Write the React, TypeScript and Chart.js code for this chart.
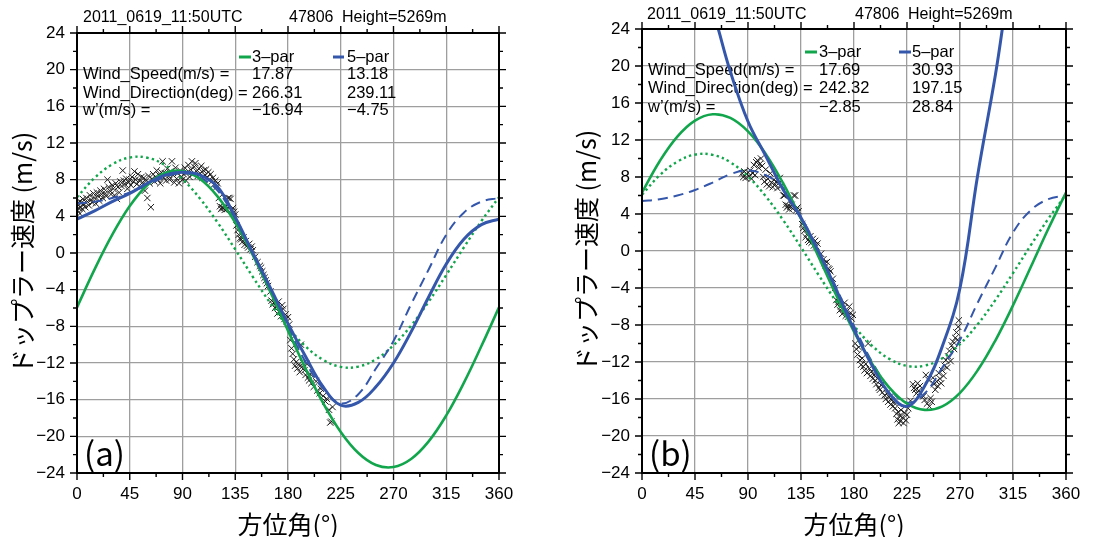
import { useEffect, useRef } from "react";
import { Chart, registerables } from "chart.js";

Chart.register(...registerables);

const W = 1107;
const H = 537;
const SANS = '"Liberation Sans", Arial, Helvetica, sans-serif';
const CJK = '"Noto Sans CJK JP", "Noto Sans", sans-serif';
const GREEN = "#12a64c";
const BLUE = "#3457ab";
const GRID = "#9e9e9e";

// fitted curves, read every 15 degrees
const fitAngles = [0, 15, 30, 45, 60, 75, 90, 105, 120, 135, 150, 165, 180, 195, 210, 225, 240, 255, 270, 285, 300, 315, 330, 345, 360];
const refDotted = [6.08, 8.19, 9.66, 10.42, 10.39, 9.59, 8.06, 5.92, 3.31, 0.4, -2.6, -5.49, -8.08, -10.19, -11.66, -12.42, -12.39, -11.59, -10.06, -7.92, -5.31, -2.4, 0.6, 3.49, 6.08];
const refDashed = [5.4, 5.6, 6.0, 6.6, 7.4, 8.3, 8.7, 8.2, 6.8, 3.7, 0.0, -4.0, -8.1, -11.9, -14.8, -16.4, -15.4, -12.6, -9.6, -5.6, -1.8, 2.0, 4.4, 5.6, 6.0];
const fitA3 = [-5.93, -1.79, 1.97, 5.12, 7.42, 8.73, 8.95, 8.07, 6.15, 3.32, -0.23, -4.25, -8.47, -12.61, -16.37, -19.52, -21.82, -23.13, -23.35, -22.47, -20.55, -17.72, -14.17, -10.15, -5.93];
const fitA5 = [3.7, 4.6, 5.6, 6.5, 7.6, 8.5, 8.8, 8.5, 7.2, 3.9, 0.0, -3.8, -7.7, -11.3, -14.6, -16.6, -16.3, -14.6, -12.0, -8.6, -4.8, -1.2, 1.5, 3.1, 3.7];
const fitB3 = [6.31, 9.71, 12.37, 14.1, 14.78, 14.39, 12.93, 10.5, 7.28, 3.48, -0.64, -4.8, -8.71, -12.11, -14.77, -16.5, -17.18, -16.79, -15.33, -12.9, -9.68, -5.88, -1.76, 2.4, 6.31];
const fitB5 = [36, 35, 32, 31, 26, 19.4, 14.0, 10.3, 6.6, 3.6, -0.1, -4.2, -8.5, -12.3, -15.4, -16.8, -14.6, -10.3, -4.0, 8.2, 19.0, 31, 38, 40, 36];

// observed Doppler velocities
const obsDegA = [0.5, 1, 1.5, 2, 2.5, 3, 4, 4.5, 5, 6, 7, 8, 9, 10, 11, 12, 13, 14, 15, 16, 17, 18, 19, 20, 21, 22, 23, 24, 25, 26, 27, 28, 29, 30, 31, 32, 33, 34, 35, 36, 37, 38, 39, 40, 41, 42, 43, 44, 45, 46, 47, 48, 49, 50, 51, 52, 53, 54, 55, 56, 57, 58, 59, 60, 61, 62, 63, 64, 65, 66, 67, 68, 69, 70, 71, 72, 73, 74, 75, 76, 77, 78, 79, 80, 81, 82, 83, 84, 85, 86, 87, 88, 89, 90, 91, 92, 93, 94, 95, 96, 97, 98, 99, 100, 101, 102, 103, 104, 105, 106, 107, 108, 109, 110, 111, 112, 113, 114, 115, 116, 117, 118, 119, 120, 121, 122, 123, 124, 125, 126, 127, 128, 129, 130, 131, 132, 133, 134, 135, 136, 137, 138, 139, 140, 141, 142, 143, 144, 145, 146, 147, 148, 149, 150, 152, 154, 156, 157, 158, 159, 160, 161, 162, 163, 165, 166, 167, 168, 169, 170, 171, 172, 173, 174, 175, 176, 177, 178, 179, 180, 181, 182, 183, 184, 185, 186, 187, 188, 189, 190, 191, 192, 193, 194, 195, 196, 197, 198, 199, 200, 202, 204, 205, 207, 208, 210, 212, 213, 215, 216, 217, 218];
const obsVelA = [4.6, 5.2, 4.9, 5.6, 4.3, 5.0, 5.5, 4.8, 5.9, 5.3, 5.0, 6.0, 5.6, 5.2, 6.3, 5.8, 5.5, 6.5, 6.0, 5.4, 6.6, 6.2, 5.7, 6.8, 6.4, 6.0, 7.0, 6.5, 6.2, 8.0, 7.2, 6.8, 6.4, 7.4, 7.0, 6.3, 7.6, 5.9, 7.2, 6.6, 7.8, 7.3, 9.0, 7.9, 7.5, 8.1, 7.0, 7.7, 8.0, 7.4, 8.3, 7.8, 8.9, 8.0, 7.5, 8.6, 7.9, 7.2, 8.3, 7.7, 8.2, 6.8, 7.9, 6.0, 8.4, 7.6, 5.0, 8.1, 8.6, 7.8, 8.3, 9.0, 8.0, 8.5, 7.6, 8.8, 10.0, 8.2, 8.7, 7.9, 9.2, 8.4, 8.0, 8.9, 10.0, 8.5, 7.7, 9.3, 8.1, 8.7, 7.6, 9.0, 8.3, 8.0, 8.6, 9.3, 7.9, 8.8, 9.6, 8.3, 9.1, 10.0, 8.6, 9.4, 9.8, 8.9, 8.4, 9.2, 8.7, 9.5, 8.2, 9.0, 8.5, 9.1, 8.3, 8.8, 8.0, 8.6, 7.8, 8.2, 7.5, 7.9, 7.2, 7.6, 6.0, 5.1, 4.8, 5.0, 4.9, 4.7, 5.1, 4.8, 6.0, 6.0, 5.9, 4.6, 4.9, 4.5, 4.2, 3.0, 2.5, 2.0, 1.6, 1.5, 1.2, 1.7, 0.9, 1.3, 0.8, 0.6, 1.0, 0.4, 0.7, 0.3, -0.4, -1.0, -1.4, -1.6, -2.0, -2.4, -2.7, -3.0, -3.3, -3.6, -4.2, -5.2, -5.6, -5.4, -6.0, -5.8, -6.6, -5.3, -6.3, -6.9, -5.7, -6.1, -7.2, -6.7, -7.5, -7.0, -7.8, -9.5, -10.4, -11.0, -11.6, -12.3, -11.9, -12.6, -12.2, -13.0, -10.0, -12.4, -12.0, -12.8, -13.3, -12.1, -13.6, -13.9, -13.2, -14.2, -14.6, -14.0, -15.0, -15.3, -14.8, -15.6, -16.2, -15.9, -17.1, -18.5, -18.4, -16.8];
const obsDegB = [85, 86, 87, 88, 89, 90, 91, 92, 93, 94, 95, 96, 97, 98, 99, 100, 101, 102, 103, 104, 105, 106, 107, 108, 109, 110, 111, 112, 113, 114, 115, 116, 117, 118, 120, 121, 122, 123, 124, 125, 126, 127, 128, 129, 130, 131, 132, 133, 136, 137, 138, 139, 140, 141, 142, 143, 144, 145, 146, 147, 148, 149, 152, 154, 155, 156, 157, 158, 159, 160, 162, 164, 165, 166, 167, 168, 169, 170, 171, 172, 173, 174, 175, 176, 177, 178, 179, 181, 182, 183, 184, 185, 186, 187, 188, 189, 190, 191, 192, 193, 194, 195, 196, 197, 198, 199, 200, 201, 202, 203, 204, 206, 207, 208, 209, 210, 211, 212, 213, 214, 215, 216, 217, 217.5, 218, 219, 219.5, 220, 221, 222, 223, 224, 225, 226, 228, 230, 231, 232, 233, 234, 235, 236, 239, 240, 241, 242, 243, 244, 245, 246, 247, 248, 249, 250, 251, 252, 253, 254, 255, 256, 257, 258, 259, 260, 261, 262, 263, 264, 265, 266, 267, 268, 268.5, 269];
const obsVelB = [8.4, 8.0, 8.6, 7.9, 8.3, 8.5, 8.1, 8.7, 7.8, 8.4, 9.3, 8.2, 9.6, 9.8, 9.0, 9.4, 10.0, 9.2, 8.0, 7.5, 8.8, 7.2, 7.8, 7.0, 8.4, 7.4, 6.9, 7.7, 7.2, 7.5, 6.8, 7.3, 7.9, 7.0, 6.0, 6.0, 5.0, 4.7, 4.9, 4.5, 4.8, 5.0, 4.6, 6.0, 6.0, 4.4, 4.7, 4.3, 2.9, 2.5, 2.2, 1.5, 1.8, 1.2, 1.0, 1.6, 0.9, 1.3, 0.6, 1.1, 0.5, 0.8, -0.3, -0.9, -1.3, -1.6, -1.2, -1.9, -2.0, -2.2, -3.0, -4.0, -5.3, -5.8, -5.5, -6.4, -6.0, -6.8, -6.2, -5.6, -7.0, -6.5, -7.1, -6.0, -6.7, -7.3, -6.9, -10.0, -10.6, -11.2, -10.4, -11.8, -12.3, -11.6, -12.5, -12.9, -12.2, -13.2, -10.0, -12.7, -13.5, -13.0, -13.8, -13.4, -14.0, -14.4, -13.8, -14.8, -15.0, -14.5, -15.3, -15.6, -16.0, -15.4, -16.3, -15.8, -16.6, -16.1, -16.8, -16.4, -17.0, -17.6, -18.2, -17.4, -18.6, -17.8, -18.4, -17.2, -18.0, -18.6, -17.5, -18.3, -17.7, -17.0, -16.2, -14.4, -14.8, -15.0, -15.4, -14.3, -15.1, -14.6, -15.7, -16.1, -13.4, -16.5, -13.9, -16.8, -15.9, -16.3, -13.7, -14.4, -15.0, -14.1, -14.6, -13.2, -13.8, -14.3, -12.9, -13.5, -12.4, -11.8, -12.6, -11.4, -10.8, -11.9, -10.2, -9.8, -10.6, -9.4, -8.8, -9.6, -8.2, -7.5];

// text
const headerA = ["2011_0619_11:50UTC", "47806", "Height=5269m"];
const headerB = ["2011_0619_11:50UTC", "47806", "Height=5269m"];
const rowLabels = ["Wind_Speed(m/s) =", "Wind_Direction(deg) =", "w’(m/s) ="];
const legendNames = ["3–par", "5–par"];
const statsA3 = ["17.87", "266.31", "−16.94"];
const statsA5 = ["13.18", "239.11", "−4.75"];
const statsB3 = ["17.69", "242.32", "−2.85"];
const statsB5 = ["30.93", "197.15", "28.84"];
const yTitle = "ドップラー速度 (m/s)";
const xTitle = "方位角(°)";

type Panel = {
  tag: string;
  left: number;
  width: number;
  plotLeft: number;
  plotRight: number;
  plotTop: number;
  plotBottom: number;
  header: string[];
  headerY: number;
  headerX: number[];
  legendY: number;
  rowY: number[];
  labelX: number;
  colX: number[];
  legSeg: number[][];
  stats3: string[];
  stats5: string[];
  yTitleX: number;
  fit3: number[];
  fit5: number[];
  obsDeg: number[];
  obsVel: number[];
};

const panels: Panel[] = [
  {
    tag: "(a)", left: 0, width: 555, plotLeft: 77, plotRight: 499, plotTop: 33, plotBottom: 473,
    header: headerA, headerY: 18, headerX: [83, 289, 342],
    legendY: 57, rowY: [74, 93, 110], labelX: 83, colX: [252, 347],
    legSeg: [[239, 251], [333, 344]], stats3: statsA3, stats5: statsA5, yTitleX: 22,
    fit3: fitA3, fit5: fitA5, obsDeg: obsDegA, obsVel: obsVelA,
  },
  {
    tag: "(b)", left: 555, width: 552, plotLeft: 642, plotRight: 1066, plotTop: 29, plotBottom: 473,
    header: headerB, headerY: 15, headerX: [647, 855, 908],
    legendY: 52, rowY: [70, 88, 107], labelX: 648, colX: [819, 912],
    legSeg: [[805, 817], [899, 911]], stats3: statsB3, stats5: statsB5, yTitleX: 586,
    fit3: fitB3, fit5: fitB5, obsDeg: obsDegB, obsVel: obsVelB,
  },
];

function pts(xs: number[], ys: number[]) {
  return xs.map((x, i) => ({ x, y: ys[i] }));
}

function curve(ys: number[], color: string, width: number, dash: number[]) {
  return {
    data: pts(fitAngles, ys),
    showLine: true,
    borderColor: color,
    backgroundColor: color,
    borderWidth: width,
    borderDash: dash,
    pointRadius: 0,
    tension: 0.4,
    fill: false,
  };
}

function overlay(p: Panel) {
  const ox = p.left;
  return {
    id: "overlay",
    beforeDatasetsDraw(chart: any) {
      const ctx = chart.ctx;
      ctx.save();
      ctx.fillStyle = "#000";
      ctx.font = `16.5px ${SANS}`;
      ctx.textAlign = "left";
      ctx.textBaseline = "middle";
      // legend
      const colors = [GREEN, BLUE];
      for (let i = 0; i < 2; i++) {
        ctx.strokeStyle = colors[i];
        ctx.lineWidth = 3;
        ctx.beginPath();
        ctx.moveTo(p.legSeg[i][0] - ox, p.legendY);
        ctx.lineTo(p.legSeg[i][1] - ox, p.legendY);
        ctx.stroke();
        ctx.fillText(legendNames[i], p.colX[i] - ox, p.legendY);
      }
      for (let r = 0; r < 3; r++) {
        ctx.fillText(rowLabels[r], p.labelX - ox, p.rowY[r]);
        ctx.fillText(p.stats3[r], p.colX[0] - ox, p.rowY[r]);
        ctx.fillText(p.stats5[r], p.colX[1] - ox, p.rowY[r]);
      }
      ctx.restore();
    },
    afterDraw(chart: any) {
      const ctx = chart.ctx;
      const { left, right, top, bottom } = chart.chartArea;
      const xs = chart.scales.x;
      const ys = chart.scales.y;
      ctx.save();
      ctx.strokeStyle = "#000";
      ctx.lineWidth = 1.4;
      ctx.beginPath();
      for (let t = 0; t <= 360; t += 22.5) {
        const x = xs.getPixelForValue(t);
        const len = t % 45 === 0 ? 7 : 4;
        ctx.moveTo(x, bottom);
        ctx.lineTo(x, bottom + len);
        ctx.moveTo(x, top);
        ctx.lineTo(x, top - len);
      }
      for (let v = -24; v <= 24; v += 2) {
        const y = ys.getPixelForValue(v);
        const len = v % 4 === 0 ? 7 : 4;
        ctx.moveTo(left - len, y);
        ctx.lineTo(left, y);
        ctx.moveTo(right, y);
        ctx.lineTo(right + len, y);
      }
      ctx.stroke();
      ctx.lineWidth = 2;
      ctx.strokeRect(left, top, right - left, bottom - top);

      // header
      ctx.fillStyle = "#000";
      ctx.font = `16px ${SANS}`;
      ctx.textAlign = "left";
      ctx.textBaseline = "middle";
      for (let i = 0; i < 3; i++) ctx.fillText(p.header[i], p.headerX[i] - ox, p.headerY);

      // panel tag
      ctx.font = `33px ${CJK}`;
      ctx.textBaseline = "alphabetic";
      ctx.fillText(p.tag, left + 7, bottom - 7);

      // axis titles
      ctx.font = `25px ${CJK}`;
      ctx.textAlign = "center";
      ctx.textBaseline = "middle";
      ctx.fillText(xTitle, (left + right) / 2, 524);
      ctx.translate(p.yTitleX - ox, (top + bottom) / 2);
      ctx.rotate(-Math.PI / 2);
      ctx.fillText(yTitle, 0, 0);
      ctx.restore();
    },
  };
}

function PanelChart({ p }: { p: Panel }) {
  const ref = useRef<HTMLCanvasElement | null>(null);
  useEffect(() => {
    if (!ref.current) return;
    const chart = new Chart(ref.current, {
      type: "scatter",
      data: {
        datasets: [
          curve(p.fit5, BLUE, 3, []),
          curve(p.fit3, GREEN, 2.6, []),
          curve(refDashed, BLUE, 2, [10, 6]),
          curve(refDotted, GREEN, 2.4, [2.4, 3.2]),
          {
            data: pts(p.obsDeg, p.obsVel),
            showLine: false,
            pointStyle: "crossRot",
            pointRadius: 4.5,
            borderColor: "#1c1c1c",
            backgroundColor: "#1c1c1c",
            borderWidth: 1,
          },
        ] as any,
      },
      options: {
        responsive: false,
        animation: false,
        events: [],
        layout: { padding: { left: 0, top: p.plotTop, right: p.width - (p.plotRight - p.left), bottom: 0 } },
        plugins: { legend: { display: false }, tooltip: { enabled: false }, title: { display: false } },
        scales: {
          x: {
            type: "linear",
            min: 0,
            max: 360,
            border: { display: false },
            grid: { color: GRID, lineWidth: 1.3, drawTicks: false },
            ticks: { stepSize: 45, autoSkip: false, maxRotation: 0, color: "#000", padding: 11, font: { size: 17, family: SANS } },
            afterFit: (s: any) => { s.height = H - p.plotBottom; },
          },
          y: {
            type: "linear",
            min: -24,
            max: 24,
            border: { display: false },
            grid: { color: GRID, lineWidth: 1.3, drawTicks: false },
            ticks: {
              stepSize: 4,
              autoSkip: false,
              color: "#000",
              padding: 12,
              font: { size: 17, family: SANS },
              callback: (v: any) => String(v).replace("-", "−"),
            },
            afterFit: (s: any) => { s.width = p.plotLeft - p.left; },
          },
        },
      },
      plugins: [overlay(p)],
    } as any);
    return () => chart.destroy();
  }, [p]);
  return (
    <canvas
      ref={ref}
      width={p.width}
      height={H}
      style={{ position: "absolute", left: p.left, top: 0, width: p.width, height: H }}
    />
  );
}

export default function App() {
  return (
    <div style={{ position: "fixed", left: 0, top: 0, width: W, height: H, background: "#fff", overflow: "hidden" }}>
      {panels.map((p) => (
        <PanelChart key={p.tag} p={p} />
      ))}
    </div>
  );
}
